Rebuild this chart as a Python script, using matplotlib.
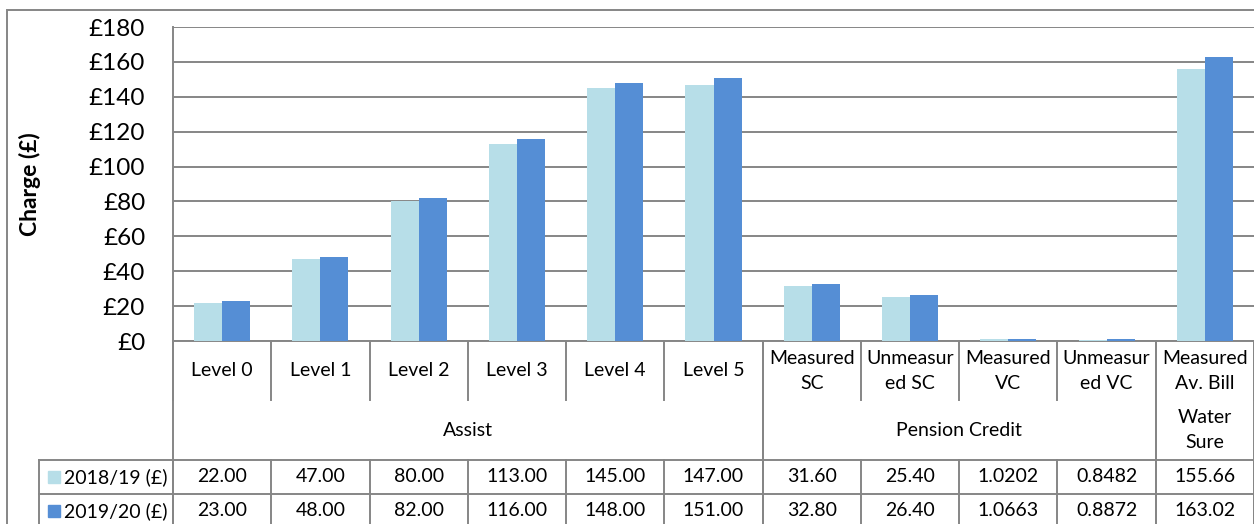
import matplotlib
matplotlib.use("Agg")
import matplotlib.pyplot as plt
from matplotlib.lines import Line2D
from matplotlib.patches import Rectangle
from matplotlib.transforms import blended_transform_factory
import numpy as np

# ---------------- data ----------------
categories = ["Level 0", "Level 1", "Level 2", "Level 3", "Level 4", "Level 5",
              "Measured\nSC", "Unmeasur\ned SC", "Measured\nVC", "Unmeasur\ned VC",
              "Measured\nAv. Bill"]
groups = ["Assist", "Pension Credit", "Water\nSure"]
group_spans = [(0, 5), (6, 9), (10, 10)]
series_names = ["2018/19 (£)", "2019/20 (£)"]
values_1819 = [22.00, 47.00, 80.00, 113.00, 145.00, 147.00, 31.60, 25.40, 1.0202, 0.8482, 155.66]
values_1920 = [23.00, 48.00, 82.00, 116.00, 148.00, 151.00, 32.80, 26.40, 1.0663, 0.8872, 163.02]
labels_1819 = ["22.00", "47.00", "80.00", "113.00", "145.00", "147.00", "31.60", "25.40", "1.0202", "0.8482", "155.66"]
labels_1920 = ["23.00", "48.00", "82.00", "116.00", "148.00", "151.00", "32.80", "26.40", "1.0663", "0.8872", "163.02"]
yticks = [0, 20, 40, 60, 80, 100, 120, 140, 160, 180]
ytick_labels = ["£0", "£20", "£40", "£60", "£80", "£100", "£120", "£140", "£160", "£180"]

# ---------------- style ----------------
C_LIGHT = "#B7DEE8"
C_DARK = "#558ED5"
GRID = "#868686"
FONT = "Lato"
plt.rcParams["font.family"] = [FONT, "DejaVu Sans"]

W, H = 1254, 524
fig = plt.figure(figsize=(W / 100, H / 100), dpi=100)

def fy(py):
    return 1 - py / H

def fx(px):
    return px / W

ax_left, ax_right, ax_top, ax_bottom = 173, 1254, 27, 341
ax = fig.add_axes([fx(ax_left), fy(ax_bottom), fx(ax_right) - fx(ax_left), fy(ax_top) - fy(ax_bottom)])

n = len(categories)
x = np.arange(n)
bw = 0.285
ax.bar(x - bw / 2, values_1819, width=bw, color=C_LIGHT, zorder=3)
ax.bar(x + bw / 2, values_1920, width=bw, color=C_DARK, zorder=3)
ax.set_xlim(-0.5, n - 0.5)
ax.set_ylim(0, 180)
ax.set_yticks(yticks)
ax.set_yticklabels(ytick_labels, fontsize=17.5)
ax.tick_params(axis="y", length=0, pad=20)
ax.tick_params(axis="x", length=0, labelbottom=False)
ax.grid(axis="y", color=GRID, linewidth=1.4, zorder=0)
for s in ["top", "right"]:
    ax.spines[s].set_visible(False)
for s in ["left", "bottom"]:
    ax.spines[s].set_color(GRID)
    ax.spines[s].set_linewidth(1.4)
ax.set_ylabel("Charge (£)", fontsize=16.5, fontweight="bold")
ax.yaxis.label.set_va("center")
ax.yaxis.set_label_coords((30 - ax_left) / (ax_right - ax_left), 0.5)

# ---------------- data table ----------------
tr = blended_transform_factory(ax.transData, fig.transFigure)

def vline(xd, py0, py1):
    fig.add_artist(Line2D([xd, xd], [fy(py0), fy(py1)], transform=tr, color=GRID, lw=1.4))

def hline_px(px0, px1, py):
    fig.add_artist(Line2D([fx(px0), fx(px1)], [fy(py), fy(py)], transform=fig.transFigure, color=GRID, lw=1.4))

row_cat_bottom = 400
row_grp_bottom = 460
row1_bottom = 494
table_bottom = 530

for i in range(n + 1):
    vline(i - 0.5, ax_bottom, row_cat_bottom)
for g0, g1 in group_spans:
    vline(g0 - 0.5, ax_bottom, table_bottom)
    vline(g1 + 0.5, ax_bottom, table_bottom)
for i in range(n + 1):
    vline(i - 0.5, row_grp_bottom, table_bottom)
fig.add_artist(Line2D([fx(39), fx(39)], [fy(row_grp_bottom), fy(table_bottom)], transform=fig.transFigure, color=GRID, lw=1.4))
hline_px(39, W, row_grp_bottom)
hline_px(39, W, row1_bottom)

TS = 14
for i, c in enumerate(categories):
    fig.text(i, fy(371), c, transform=tr, ha="center", va="center", fontsize=TS, linespacing=1.62)
for (g0, g1), g in zip(group_spans, groups):
    fig.text((g0 + g1) / 2, fy(430), g, transform=tr, ha="center", va="center", fontsize=TS, linespacing=1.62)
for i in range(n):
    fig.text(i, fy(477), labels_1819[i], transform=tr, ha="center", va="center", fontsize=TS)
    fig.text(i, fy(511), labels_1920[i], transform=tr, ha="center", va="center", fontsize=TS)

for py, col, name in [(477, C_LIGHT, series_names[0]), (511, C_DARK, series_names[1])]:
    fig.add_artist(Rectangle((fx(48), fy(py + 6)), fx(12), 12 / H, transform=fig.transFigure, color=col))
    fig.text(fx(64), fy(py), name, ha="left", va="center", fontsize=TS)

fig.add_artist(Rectangle((fx(7), fy(H + 5)), fx(W), (H + 5 - 10) / H, transform=fig.transFigure,
                         fill=False, edgecolor=GRID, lw=1.4))

fig.savefig("out.png", dpi=100)
